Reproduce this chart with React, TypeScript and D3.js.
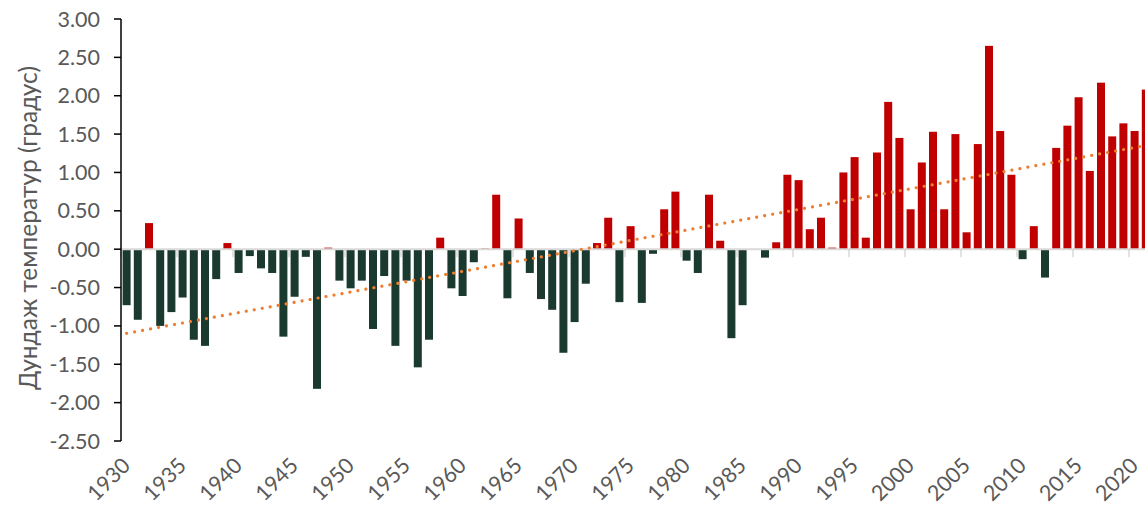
import React from 'react';
import * as d3 from 'd3';

// Жилүүд (ангилал)
const startYear = 1930;
const years: number[] = d3.range(startYear, 2022);

// Дундаж температурын хазайлт, градус
const values: number[] = [
  -0.73, -0.92, 0.34, -1.00, -0.82, -0.63, -1.18, -1.26, -0.39, 0.08,
  -0.31, -0.09, -0.25, -0.31, -1.14, -0.62, -0.10, -1.82, 0.02, -0.41,
  -0.51, -0.41, -1.04, -0.35, -1.26, -0.41, -1.54, -1.18, 0.15, -0.51,
  -0.61, -0.17, 0.01, 0.71, -0.64, 0.40, -0.31, -0.65, -0.79, -1.35,
  -0.95, -0.45, 0.08, 0.41, -0.69, 0.30, -0.70, -0.06, 0.52, 0.75,
  -0.15, -0.31, 0.71, 0.11, -1.16, -0.73, 0.00, -0.11, 0.09, 0.97,
  0.90, 0.26, 0.41, 0.02, 1.00, 1.20, 0.15, 1.26, 1.92, 1.45,
  0.52, 1.13, 1.53, 0.52, 1.50, 0.22, 1.37, 2.65, 1.54, 0.97,
  -0.13, 0.30, -0.37, 1.32, 1.61, 1.98, 1.02, 2.17, 1.47, 1.64,
  1.54, 2.08,
];

const yTicks: number[] = [3, 2.5, 2, 1.5, 1, 0.5, 0, -0.5, -1, -1.5, -2, -2.5];
const xLabelYears: number[] = years.filter((y) => (y - startYear) % 5 === 0);

const W = 1145;
const H = 505;
const FONT = 'Lato, "Open Sans", sans-serif';

const App = () => {
  const left = 121;
  const step = 11.2;

  const x = d3.scaleBand<number>()
    .domain(years)
    .range([left, left + step * years.length])
    .paddingInner(0.2857)
    .paddingOuter(0.1428);

  const y = d3.scaleLinear().domain([-2.5, 3]).range([441, 19]);

  // шугаман трэнд (хамгийн бага квадрат)
  const n = values.length;
  const idx = values.map((_, i) => i);
  const mx = d3.mean(idx) as number;
  const my = d3.mean(values) as number;
  const slope = d3.sum(idx, (i) => (i - mx) * (values[i] - my)) / d3.sum(idx, (i) => (i - mx) ** 2);
  const icpt = my - slope * mx;
  const cx = (i: number) => (x(years[i]) as number) + x.bandwidth() / 2;
  const trend = d3.line<number>()
    .x((i) => cx(i))
    .y((i) => y(icpt + slope * i));

  const boundaries = d3.range(0, years.length + 1, 5).map((k) => left + k * x.step());

  return (
    <svg
      width={W}
      height={H}
      style={{ position: 'absolute', left: 0, top: 0, background: '#fff' }}
      fontFamily={FONT}
    >
      {/* баганууд */}
      {values.map((v, i) => (
        <rect
          key={years[i]}
          x={x(years[i])}
          width={x.bandwidth()}
          y={Math.min(y(v), y(0))}
          height={Math.abs(y(v) - y(0))}
          fill={v >= 0 ? '#C00000' : '#1B3A2F'}
        />
      ))}

      {/* тэг шугам */}
      <line x1={left} x2={W} y1={y(0)} y2={y(0)} stroke="#D9D9D9" strokeWidth={2} />
      {boundaries.map((bx) => (
        <line key={bx} x1={bx} x2={bx} y1={y(0)} y2={y(0) + 8} stroke="#D9D9D9" strokeWidth={1.5} />
      ))}

      {/* трэнд */}
      <path
        d={trend([0, n - 1]) as string}
        fill="none"
        stroke="#ED7D31"
        strokeWidth={3.2}
        strokeLinecap="round"
        strokeDasharray="0.01 8.1"
      />

      {/* Y тэнхлэг */}
      <line x1={left} x2={left} y1={y(3)} y2={y(-2.5)} stroke="#000" strokeWidth={1.5} />
      {yTicks.map((t) => (
        <g key={t}>
          <line x1={left - 7} x2={left} y1={y(t)} y2={y(t)} stroke="#000" strokeWidth={1.5} />
          <text
            x={100}
            y={y(t)}
            dy="0.35em"
            textAnchor="end"
            fontSize={21.5}
            fill="#595959"
          >
            {t.toFixed(2)}
          </text>
        </g>
      ))}

      {/* X шошго */}
      {xLabelYears.map((yr) => {
        const px = (x(yr) as number) + x.bandwidth() / 2;
        return (
          <text
            key={yr}
            transform={`translate(${px + 5},${467}) rotate(-45)`}
            textAnchor="end"
            fontSize={21.5}
            fill="#595959"
          >
            {yr}
          </text>
        );
      })}

      <text
        transform={`translate(${37},${228}) rotate(-90)`}
        textAnchor="middle"
        fontSize={24.5}
        fill="#595959"
      >
        Дундаж температур (градус)
      </text>
    </svg>
  );
};

export default App;
